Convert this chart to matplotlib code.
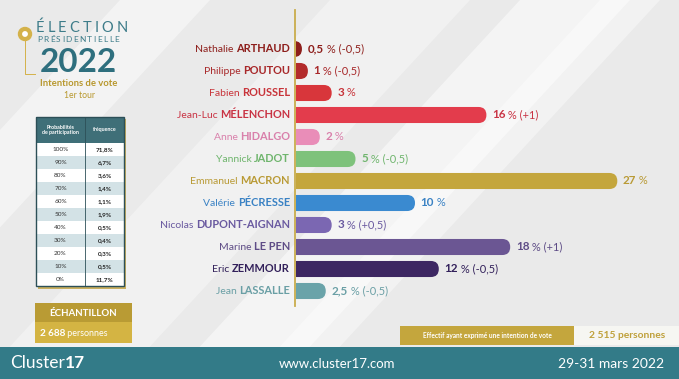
import matplotlib.pyplot as plt
from matplotlib.patches import FancyBboxPatch, Rectangle, Circle, Polygon

plt.rcParams["font.family"] = ["Lato", "DejaVu Sans"]

# candidates, top to bottom
first_names = ["Nathalie", "Philippe", "Fabien", "Jean-Luc", "Anne", "Yannick",
               "Emmanuel", "Valérie", "Nicolas", "Marine", "Eric", "Jean"]
last_names = ["ARTHAUD", "POUTOU", "ROUSSEL", "MÉLENCHON", "HIDALGO", "JADOT",
              "MACRON", "PÉCRESSE", "DUPONT-AIGNAN", "LE PEN", "ZEMMOUR", "LASSALLE"]
values = [0.5, 1, 3, 16, 2, 5, 27, 10, 3, 18, 12, 2.5]
value_labels = ["0,5", "1", "3", "16", "2", "5", "27", "10", "3", "18", "12", "2,5"]
changes = ["(-0,5)", "(-0,5)", "", "(+1)", "", "(-0,5)", "", "", "(+0,5)", "(+1)", "(-0,5)", "(-0,5)"]
colors = ["#8E1F1C", "#B32B2B", "#D8363B", "#E33C4C", "#E98DB8", "#7EC27B",
          "#C4A63D", "#3A8AD0", "#7B67B2", "#6B5693", "#3D2762", "#6AA3A9"]
name_colors = ["#8E1F1C", "#A8282A", "#C8343A", "#C93344", "#D980AB", "#6FB56D",
               "#B99A35", "#3A82C4", "#6A5AA0", "#5E4C86", "#32205A", "#6A9FA5"]

# participation table
probas = ["100%", "90%", "80%", "70%", "60%", "50%", "40%", "30%", "20%", "10%", "0%"]
freqs = ["71,8%", "6,7%", "3,6%", "1,4%", "1,1%", "1,9%", "0,5%", "0,4%", "0,3%", "0,5%", "11,7%"]

TEAL = "#2E6F7E"
HEAVY = "bold"


def tracked_text(ax, x, y, s, gap, **kw):
    """Write s letter by letter with extra spacing (gap in points)."""
    prev = ax.text(x, y, s[0], ha="left", va="center", **kw)
    for ch in s[1:]:
        prev = ax.annotate(ch, xy=(1, 0.5), xycoords=prev, xytext=(gap, 0),
                           textcoords="offset points", ha="left", va="center", **kw)


fig = plt.figure(figsize=(6.79, 3.79), dpi=100)
fig.patch.set_facecolor("#EAEAEA")

bg = fig.add_axes([0, 0, 1, 1])
bg.set_xlim(0, 679)
bg.set_ylim(379, 0)
bg.axis("off")

# soft diagonal light bands
for x0, w, a in [(120, 90, 0.45), (330, 140, 0.35), (520, 110, 0.5), (600, 60, 0.4)]:
    bg.add_patch(Polygon([(x0, 0), (x0 + w, 0), (x0 + w - 350, 379), (x0 - 350, 379)],
                         closed=True, color="white", alpha=a, lw=0))

# title block
bg.add_patch(Circle((25, 34), 6.5, color="#D4B24A", zorder=3))
bg.add_patch(Circle((25, 34), 2.2, color="white", zorder=4))
bg.plot([25, 25, 35], [40, 74, 74], color="#D4B24A", lw=0.7)
tracked_text(bg, 36, 28, "ÉLECTION", 2.2, color="#3D7C89", fontsize=10.5)
tracked_text(bg, 37, 40, "PRÉSIDENTIELLE", 1.0, color="#3D7C89", fontsize=6.0)
bg.text(78, 62, "2022", color=TEAL, fontsize=24, fontweight=HEAVY, va="center", ha="center")
bg.text(79, 83, "Intentions de vote", color="#B8982E", fontsize=6.8, fontweight=HEAVY,
        va="center", ha="center")
bg.text(79, 95, "1er tour", color="#B8982E", fontsize=6.2, va="center", ha="center")

# table
tx0, tx1, tmid = 36, 124, 85
bg.add_patch(Rectangle((tx0 + 2, 119), tx1 - tx0, 170, color="#C9B060", lw=0, zorder=1))
bg.add_patch(Rectangle((tx0, 117), tx1 - tx0, 26, color="#3F6F78", lw=0, zorder=2))
bg.text((tx0 + tmid) / 2, 130, "Probabilités\nde participation", color="white", fontsize=3.8,
        fontweight="bold", ha="center", va="center", linespacing=1.1, zorder=3)
bg.text((tmid + tx1) / 2, 130, "fréquence", color="white", fontsize=3.8,
        fontweight="bold", ha="center", va="center", zorder=3)
row_h = 13
for i, (p, f) in enumerate(zip(probas, freqs)):
    y0 = 143 + i * row_h
    bg.add_patch(Rectangle((tx0, y0), tx1 - tx0, row_h,
                           color="white" if i % 2 == 0 else "#D3E2E6", lw=0, zorder=2))
    bg.text((tx0 + tmid) / 2, y0 + row_h / 2, p, color="#333333", fontsize=4.6,
            ha="center", va="center", zorder=3)
    bg.text((tmid + tx1) / 2, y0 + row_h / 2, f, color="#222222", fontsize=4.6,
            fontweight="bold", ha="center", va="center", zorder=3)
bg.add_patch(Rectangle((tx0, 117), tx1 - tx0, 143 + 11 * row_h - 117, fill=False,
                       ec="#2C4F57", lw=1.0, zorder=4))
bg.plot([tmid, tmid], [117, 143 + 11 * row_h], color="#2C4F57", lw=0.6, zorder=4)

# sample box
bg.add_patch(Rectangle((35, 303), 97, 19, color="#B99B34", lw=0))
bg.add_patch(Rectangle((35, 322), 97, 21, color="#D4B443", lw=0))
bg.text(83, 313, "ÉCHANTILLON", color="white", fontsize=7, fontweight=HEAVY,
        ha="center", va="center")
t = bg.text(40, 333, "2 688", color="white", fontsize=7.2, fontweight=HEAVY,
            ha="left", va="center")
bg.annotate(" personnes", xy=(1, 0.5), xycoords=t, color="white", fontsize=6.4,
            ha="left", va="center")

# bottom right box
bg.add_patch(Rectangle((400, 326), 174, 19, color="#C4A63D", lw=0))
bg.add_patch(Rectangle((574, 326), 105, 19, color="#F6F6F2", lw=0))
bg.text(487, 335.5, "Effectif ayant exprimé une intention de vote", color="white",
        fontsize=4.7, fontweight=HEAVY, ha="center", va="center")
bg.text(627, 335.5, "2 515 personnes", color="#BFA03A", fontsize=7.4, fontweight=HEAVY,
        ha="center", va="center")

# footer banner
bg.add_patch(Rectangle((0, 347), 679, 32, color="#2F7382", lw=0))
bg.add_patch(Rectangle((0, 347), 679, 32, color="#3C8A96", lw=0, alpha=0.35))
t = bg.text(10, 363, "Cluster", color="white", fontsize=12.5,
            ha="left", va="center")
bg.annotate("17", xy=(1, 0.5), xycoords=t, color="white", fontsize=12.5,
            fontweight=HEAVY, ha="left", va="center")
bg.text(337, 364, "www.cluster17.com", color="white", fontsize=9.5, ha="center", va="center")
bg.text(611, 364, "29-31 mars 2022", color="white", fontsize=10, ha="center", va="center")

# axis line
bg.plot([295, 295], [10, 306], color="#C9AD4C", lw=1.3)

# bars
ax = fig.add_axes([296 / 679, (379 - 302) / 379, 357 / 679, 264 / 379])
ax.set_xlim(0, 30)
ax.set_ylim(11.5, -0.5)
ax.axis("off")
ax.patch.set_alpha(0)

bar_h = 0.73
for i, v in enumerate(values):
    bar = FancyBboxPatch((-1.5, i - bar_h / 2), v + 1.5, bar_h,
                         boxstyle="round,pad=0,rounding_size=0.67",
                         mutation_aspect=0.54, color=colors[i], lw=0, clip_on=True)
    ax.add_patch(bar)
    vt = ax.annotate(value_labels[i], xy=(v, i), xytext=(4, 0), textcoords="offset points",
                     color=name_colors[i], fontsize=8.4, fontweight=HEAVY,
                     ha="left", va="center", annotation_clip=False)
    rest = " %" + (" " + changes[i] if changes[i] else "")
    ax.annotate(rest, xy=(1, 0.5), xycoords=vt, color=name_colors[i], fontsize=7.9,
                ha="left", va="center")

    lt = bg.text(290, 49 + i * 22, last_names[i], color=name_colors[i], fontsize=7.9,
                 fontweight=HEAVY, ha="right", va="center")
    bg.annotate(first_names[i] + " ", xy=(0, 0.5), xycoords=lt, color=name_colors[i],
                fontsize=7.5, ha="right", va="center")

fig.savefig("out.png", dpi=100, facecolor=fig.get_facecolor())
